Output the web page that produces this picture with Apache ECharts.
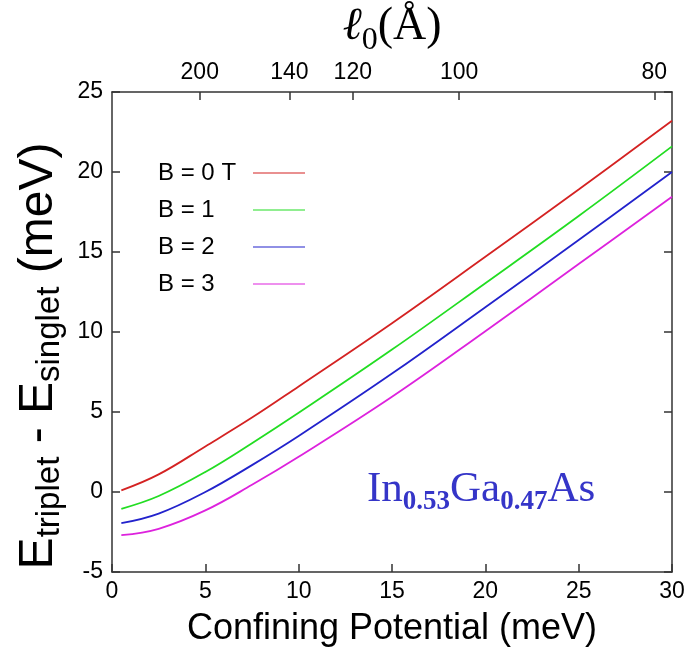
<!DOCTYPE html>
<html>
<head>
<meta charset="utf-8">
<script src="https://cdn.jsdelivr.net/npm/echarts@6/dist/echarts.min.js"></script>
<style>
  html, body { margin: 0; padding: 0; background: #fff; }
  #chart { width: 694px; height: 652px; }
</style>
</head>
<body>
<div id="chart"></div>
<script>
// data
var potential = [0.5, 2.5, 5, 7.5, 10, 15, 20, 25, 30];
var b0 = [0.1, 1.1, 2.85, 4.65, 6.6, 10.55, 14.7, 18.9, 23.2];
var b1 = [-1.05, -0.25, 1.25, 3.05, 4.95, 8.9, 13.05, 17.25, 21.6];
var b2 = [-1.95, -1.35, 0.0, 1.68, 3.5, 7.4, 11.55, 15.75, 20.0];
var b3 = [-2.7, -2.3, -1.15, 0.45, 2.2, 5.95, 10.05, 14.25, 18.45];
var seriesNames = ['B = 0 T', 'B = 1', 'B = 2', 'B = 3'];
// top axis: l0 in Angstrom, placed at confining potential values
var topTickPos = [4.7, 9.5, 12.9, 18.6, 29.05];
var topTickLabels = ['200', '140', '120', '100', '80'];

window.onload = function(){
    var myChart = echarts.init(document.getElementById('chart'));
    var font = 'Liberation Sans, Arial, sans-serif';
    var serif = 'Liberation Serif, Times New Roman, serif';
    var colors = ['#d42222', '#22dd22', '#2222cc', '#dd22dd'];
    var axisColor = '#333';

    function pairs(ys){
        return potential.map(function(x, i){ return [x, ys[i]]; });
    }

    var option = {
        animation: false,
        backgroundColor: '#fff',
        color: colors,
        grid: { left: 112, right: 22, top: 92, bottom: 80, containLabel: false, outerBoundsMode: 'none' },
        title: {
            text: '{n|In}{s|0.53}{n|Ga}{s|0.47}{n|As}',
            left: 362,
            top: 458,
            textStyle: {
                rich: {
                    n: { fontFamily: serif, fontSize: 43, fontWeight: 'normal', color: '#3535c8' },
                    s: { fontFamily: serif, fontSize: 27, fontWeight: 'bold', color: '#3535c8', padding: [26, 0, 0, 0] }
                }
            }
        },
        legend: {
            orient: 'vertical',
            left: 158,
            top: 161,
            padding: 0,
            align: 'right',
            itemGap: 13,
            itemWidth: 52,
            itemHeight: 22,
            data: seriesNames.map(function(n){ return { name: n, icon: 'path://M0,0L52,0L52,1L0,1Z' }; }),
            formatter: function(name){ return '{a|' + name + '}'; },
            textStyle: {
                rich: {
                    a: { fontFamily: font, fontSize: 24, color: '#000', width: 90, align: 'left' }
                }
            }
        },
        xAxis: [{
            type: 'value',
            min: 0, max: 30, interval: 5,
            position: 'bottom',
            name: 'Confining Potential (meV)',
            nameLocation: 'middle',
            nameGap: 39,
            nameTextStyle: { fontFamily: font, fontSize: 36, color: '#000' },
            axisLine: { onZero: false, lineStyle: { color: axisColor, width: 1.5 } },
            axisTick: { inside: true, length: 8, lineStyle: { color: axisColor, width: 1.5 } },
            axisLabel: { fontFamily: font, fontSize: 23, color: '#000', margin: 8 },
            splitLine: { show: false }
        }, {
            type: 'value',
            min: 0, max: 30,
            position: 'top',
            name: '{l|ℓ}{s|0}{p|(Å)}',
            nameLocation: 'middle',
            nameGap: 34,
            nameTextStyle: {
                rich: {
                    l: { fontFamily: serif, fontSize: 46, fontStyle: 'italic', color: '#000' },
                    s: { fontFamily: serif, fontSize: 32, color: '#000', padding: [26, 0, 0, 0] },
                    p: { fontFamily: serif, fontSize: 46, color: '#000' }
                }
            },
            axisLine: { onZero: false, lineStyle: { color: axisColor, width: 1.5 } },
            axisTick: { inside: true, length: 8, customValues: topTickPos, lineStyle: { color: axisColor, width: 1.5 } },
            axisLabel: {
                customValues: topTickPos,
                fontFamily: font, fontSize: 23, color: '#000', margin: 8,
                formatter: function(v){
                    var i = topTickPos.indexOf(v);
                    return i >= 0 ? topTickLabels[i] : '';
                }
            },
            splitLine: { show: false }
        }],
        yAxis: [{
            type: 'value',
            min: -5, max: 25, interval: 5,
            position: 'left',
            name: '{e|E}{s|triplet}{e| - E}{s|singlet}{e| (meV)}',
            nameLocation: 'middle',
            nameRotate: 90,
            nameGap: 44,
            nameTextStyle: {
                padding: [0, 48, 0, 0],
                rich: {
                    e: { fontFamily: font, fontSize: 48, color: '#000' },
                    s: { fontFamily: font, fontSize: 33, color: '#000', padding: [22, 0, 0, 0] }
                }
            },
            axisLine: { onZero: false, lineStyle: { color: axisColor, width: 1.5 } },
            axisTick: { inside: true, length: 8, lineStyle: { color: axisColor, width: 1.5 } },
            axisLabel: { fontFamily: font, fontSize: 23, color: '#000', margin: 9 },
            splitLine: { show: false }
        }, {
            type: 'value',
            min: -5, max: 25, interval: 5,
            position: 'right',
            axisLine: { onZero: false, lineStyle: { color: axisColor, width: 1.5 } },
            axisTick: { inside: true, length: 8, lineStyle: { color: axisColor, width: 1.5 } },
            axisLabel: { show: false },
            splitLine: { show: false }
        }],
        series: [b0, b1, b2, b3].map(function(ys, i){
            return {
                name: seriesNames[i],
                type: 'line',
                smooth: 0.4,
                showSymbol: false,
                lineStyle: { width: 1.8 },
                data: pairs(ys)
            };
        })
    };

    myChart.setOption(option);
}
</script>
</body>
</html>
